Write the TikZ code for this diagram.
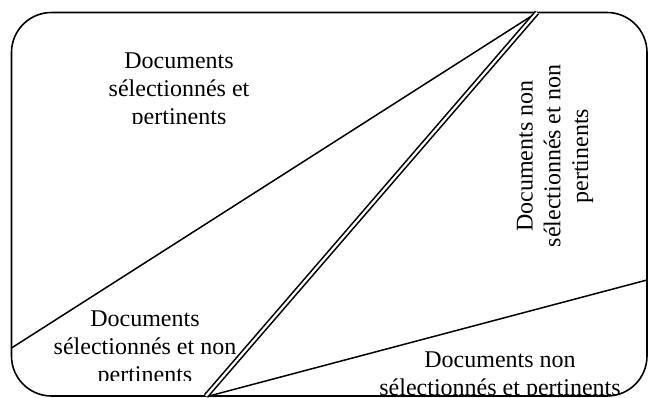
\documentclass[tikz,border=0pt]{standalone}
\usepackage{fontspec}
\setmainfont{Liberation Serif}
\begin{document}
\begin{tikzpicture}[x=1pt,y=-1pt,
  frame/.style={draw=black,line width=1.6pt,rounded corners=40pt},
  divider/.style={draw=black,line width=1.5pt},
  twin/.style={draw=black,double=white,line width=1.6pt,double distance=2.2pt},
  lbl/.style={align=center,inner sep=0pt,font=\fontsize{24}{27.8}\selectfont}]
  \useasboundingbox (0,0) rectangle (648,397);
  % outer frame
  \draw[frame] (11.5,12.5) rectangle (647,396);
  % end points of the dividing lines
  \coordinate (apex) at (537,12.5);
  \coordinate (leftend) at (11.5,348);
  \coordinate (footA) at (206,396);
  \coordinate (footB) at (209,396);
  \coordinate (rightend) at (647,280);
  \draw[divider] (apex) -- (leftend);
  \draw[divider] (footB) -- (rightend);
  \draw[twin] (apex) -- (footA);
  % labels of the four regions
  \begin{scope}
    \clip (80,40) rectangle (290,123);
    \node[lbl,anchor=north] (selpert) at (179,53) {Documents\\sélectionnés et\\pertinents};
  \end{scope}
  \begin{scope}
    \clip (40,300) rectangle (250,380);
    \node[lbl,anchor=north] (selnonpert) at (145,311) {Documents\\sélectionnés et non\\pertinents};
  \end{scope}
  \begin{scope}
    \clip (360,340) rectangle (640,395.5);
    \node[lbl,anchor=north] (nonselpert) at (500,351.5) {Documents non\\sélectionnés et pertinents};
  \end{scope}
  \node[lbl,rotate=90] (nonselnonpert) at (555,156) {Documents non\\sélectionnés et non\\pertinents};
\end{tikzpicture}
\end{document}
